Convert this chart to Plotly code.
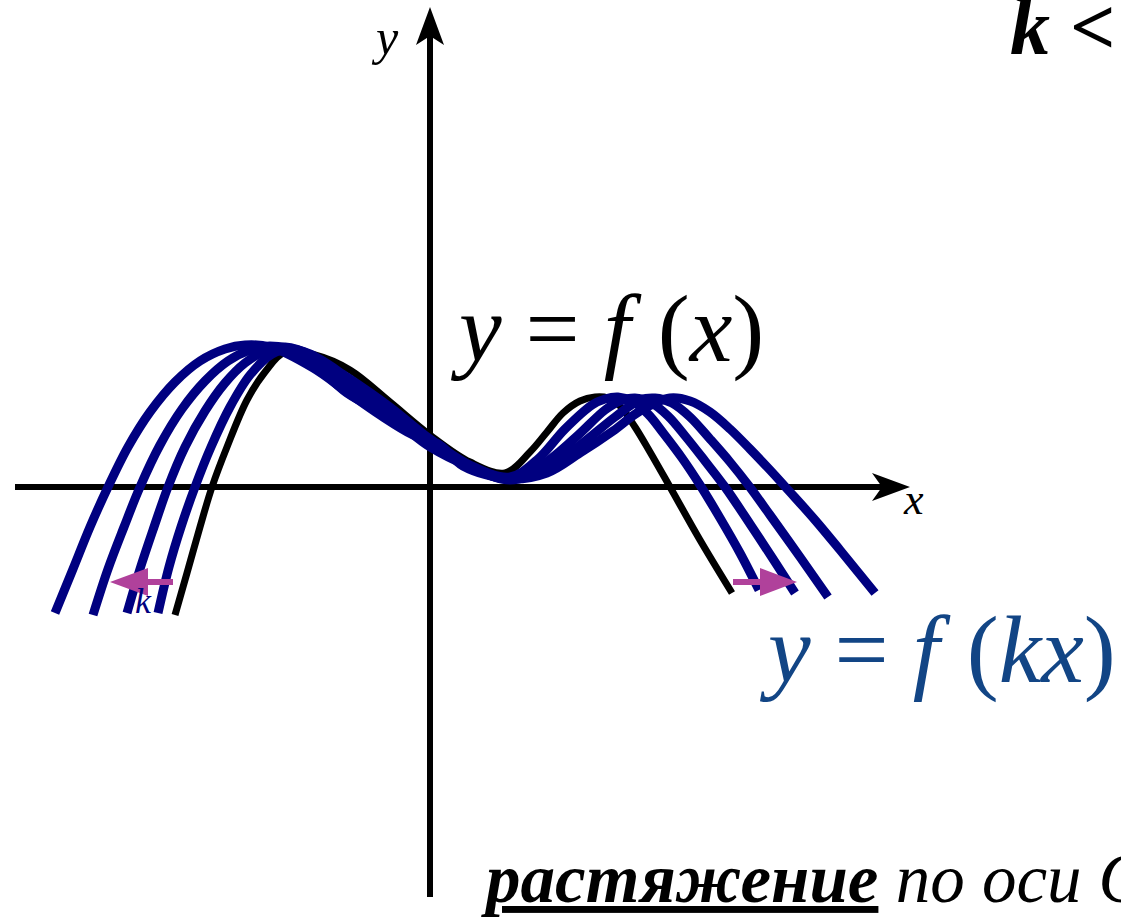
import plotly.graph_objects as go

# ---------------- data (chart units; origin = crossing of the axes) ----------------
# base curve y = f(x)
fx_x = [-2.55, -2.43, -2.30, -2.18, -2.03, -1.83, -1.65, -1.45, -1.15, -0.80, -0.40, 0.00, 0.40,
        0.75, 1.00, 1.17, 1.33, 1.50, 1.65, 1.78, 1.90, 2.05, 2.20, 2.40, 2.70, 3.02]
fx_y = [-1.28, -0.86, -0.40, 0.00, 0.40, 0.87, 1.15, 1.35, 1.32, 1.17, 0.85, 0.52, 0.25,
        0.14, 0.35, 0.55, 0.74, 0.86, 0.90, 0.89, 0.81, 0.60, 0.35, 0.00, -0.53, -1.06]

# stretched curves y = f(kx), k < 1 (from least to most stretched)
kx1_x = [-2.72, -2.61, -2.49, -2.35, -2.19, -2.00, -1.80, -1.58, -1.40, -1.20, -0.83, -0.40, 0.00, 0.40,
         0.80, 1.07, 1.35, 1.62, 1.75, 1.88, 2.02, 2.18, 2.34, 2.52, 2.70, 2.90, 3.10, 3.29]
kx1_y = [-1.26, -0.80, -0.40, 0.00, 0.40, 0.80, 1.12, 1.33, 1.38, 1.33, 1.10, 0.80, 0.48, 0.22,
         0.10, 0.27, 0.58, 0.82, 0.88, 0.90, 0.86, 0.73, 0.53, 0.29, 0.02, -0.31, -0.66, -1.03]

kx2_x = [-3.03, -2.90, -2.76, -2.62, -2.45, -2.25, -2.05, -1.85, -1.65, -1.45, -1.20, -0.83, -0.40, 0.00,
         0.40, 0.80, 1.12, 1.45, 1.75, 1.90, 2.05, 2.20, 2.38, 2.56, 2.75, 2.95, 3.20, 3.45, 3.65]
kx2_y = [-1.26, -0.82, -0.40, 0.00, 0.40, 0.76, 1.04, 1.24, 1.36, 1.40, 1.32, 1.02, 0.75, 0.44,
         0.20, 0.08, 0.22, 0.49, 0.77, 0.86, 0.89, 0.85, 0.71, 0.50, 0.26, 0.00, -0.37, -0.75, -1.06]

kx3_x = [-3.37, -3.22, -3.06, -2.90, -2.70, -2.48, -2.25, -2.02, -1.80, -1.60, -1.30, -0.83, -0.40, 0.00,
         0.40, 0.80, 1.15, 1.50, 1.85, 2.10, 2.25, 2.42, 2.60, 2.80, 3.00, 3.19, 3.40, 3.70, 3.98]
kx3_y = [-1.28, -0.82, -0.40, 0.00, 0.42, 0.78, 1.06, 1.26, 1.37, 1.41, 1.34, 0.94, 0.70, 0.40,
         0.20, 0.07, 0.18, 0.42, 0.70, 0.87, 0.89, 0.84, 0.70, 0.48, 0.25, 0.01, -0.28, -0.70, -1.10]

kx4_x = [-3.75, -3.57, -3.40, -3.22, -3.02, -2.80, -2.55, -2.30, -2.05, -1.85, -1.60, -1.17, -0.83, -0.50,
         -0.17, 0.10, 0.33, 0.80, 1.17, 1.50, 1.83, 2.10, 2.40, 2.60, 2.80, 3.00, 3.20, 3.40, 3.60, 3.85,
         4.10, 4.45]
kx4_y = [-1.26, -0.82, -0.40, 0.00, 0.40, 0.75, 1.05, 1.26, 1.38, 1.42, 1.40, 1.19, 0.95, 0.72,
         0.52, 0.42, 0.21, 0.08, 0.14, 0.34, 0.56, 0.76, 0.89, 0.86, 0.75, 0.58, 0.38, 0.17, -0.05, -0.33,
         -0.63, -1.06]

stretched_x = [kx1_x, kx2_x, kx3_x, kx4_x]
stretched_y = [kx1_y, kx2_y, kx3_y, kx4_y]

label_fx = "<i>y</i> = <i>f</i>\u2009\u200a(<i>x</i>)"
label_fkx = "<i>y</i> = <i>f</i>\u2009\u200a(<i>kx</i>)"
label_cond = "<b><i>k</i> &lt; 1</b>"
label_bottom = "<b><i><u>растяжение</u></i></b><i> по оси Ох</i>"

# ---------------- layout helpers (pixel geometry of the 1121x919 page) ----------------
W, H = 1121, 919
OX, OY = 430, 487       # pixel position of the origin
PX = 100.0              # pixels per chart unit


def ux(px):
    return (px - OX) / PX


def uy(py):
    return (OY - py) / PX


SERIF = "Liberation Serif, Times New Roman, serif"
NAVY = "#000080"
TXT_BLUE = "#124585"
MAGENTA = "#b0419b"

fig = go.Figure()

fig.add_trace(go.Scatter(x=fx_x, y=fx_y, mode="lines",
                         line=dict(color="black", width=7, shape="spline", smoothing=1.0),
                         hoverinfo="skip"))
for xs, ys in zip(stretched_x, stretched_y):
    fig.add_trace(go.Scatter(x=xs, y=ys, mode="lines",
                             line=dict(color=NAVY, width=9, shape="spline", smoothing=1.0),
                             hoverinfo="skip"))

shapes = []
# axes lines
shapes.append(dict(type="line", x0=ux(15), y0=0, x1=ux(885), y1=0,
                   line=dict(color="black", width=6), layer="below"))
shapes.append(dict(type="line", x0=0, y0=uy(897), x1=0, y1=uy(35),
                   line=dict(color="black", width=6), layer="below"))


def head_path(tip, base_a, notch, base_b):
    pts = [tip, base_a, notch, base_b]
    return "M " + " L ".join(f"{ux(p[0])},{uy(p[1])}" for p in pts) + " Z"


# axis arrowheads (barbed)
shapes.append(dict(type="path", path=head_path((910, 487), (872, 473), (882, 487), (872, 501)),
                   fillcolor="black", line=dict(width=0), layer="below"))
shapes.append(dict(type="path", path=head_path((430, 7), (416, 45), (430, 36), (444, 45)),
                   fillcolor="black", line=dict(width=0), layer="below"))

# magenta direction arrows
shapes.append(dict(type="line", x0=ux(173), y0=uy(582), x1=ux(145), y1=uy(582),
                   line=dict(color=MAGENTA, width=6), layer="above"))
shapes.append(dict(type="path", path=head_path((110, 582), (148, 568), (148, 582), (148, 596)),
                   fillcolor=MAGENTA, line=dict(width=0), layer="above"))
shapes.append(dict(type="line", x0=ux(733), y0=uy(582), x1=ux(763), y1=uy(582),
                   line=dict(color=MAGENTA, width=6), layer="above"))
shapes.append(dict(type="path", path=head_path((797, 582), (760, 568), (760, 582), (760, 596)),
                   fillcolor=MAGENTA, line=dict(width=0), layer="above"))


def ann(text, left_px, baseline_px, size, color="black"):
    bottom = baseline_px + 0.216 * size + 1
    return dict(text=text, x=ux(left_px), y=uy(bottom), xref="x", yref="y",
                xanchor="left", yanchor="bottom", showarrow=False,
                font=dict(family=SERIF, size=size, color=color))


annotations = [
    ann(label_fx, 448, 362, 96),
    ann(label_fkx, 757, 683, 96, TXT_BLUE),
    ann(label_cond, 1008, 55, 80),
    ann(label_bottom, 479, 903, 69),
    ann("<i>y</i>", 369, 55, 50),
    ann("<i>x</i>", 901, 515, 44),
    ann("<i>k</i>", 133, 614, 36, NAVY),
]

fig.update_layout(
    width=W, height=H,
    margin=dict(l=0, r=0, t=0, b=0),
    paper_bgcolor="white", plot_bgcolor="white",
    showlegend=False,
    xaxis=dict(range=[ux(0), ux(W)], visible=False, fixedrange=True),
    yaxis=dict(range=[uy(H), uy(0)], visible=False, fixedrange=True),
    shapes=shapes,
    annotations=annotations,
)

fig.write_html("out.html", config={"displayModeBar": False},
               post_script="document.body.style.margin='0';document.body.style.overflow='hidden';")
